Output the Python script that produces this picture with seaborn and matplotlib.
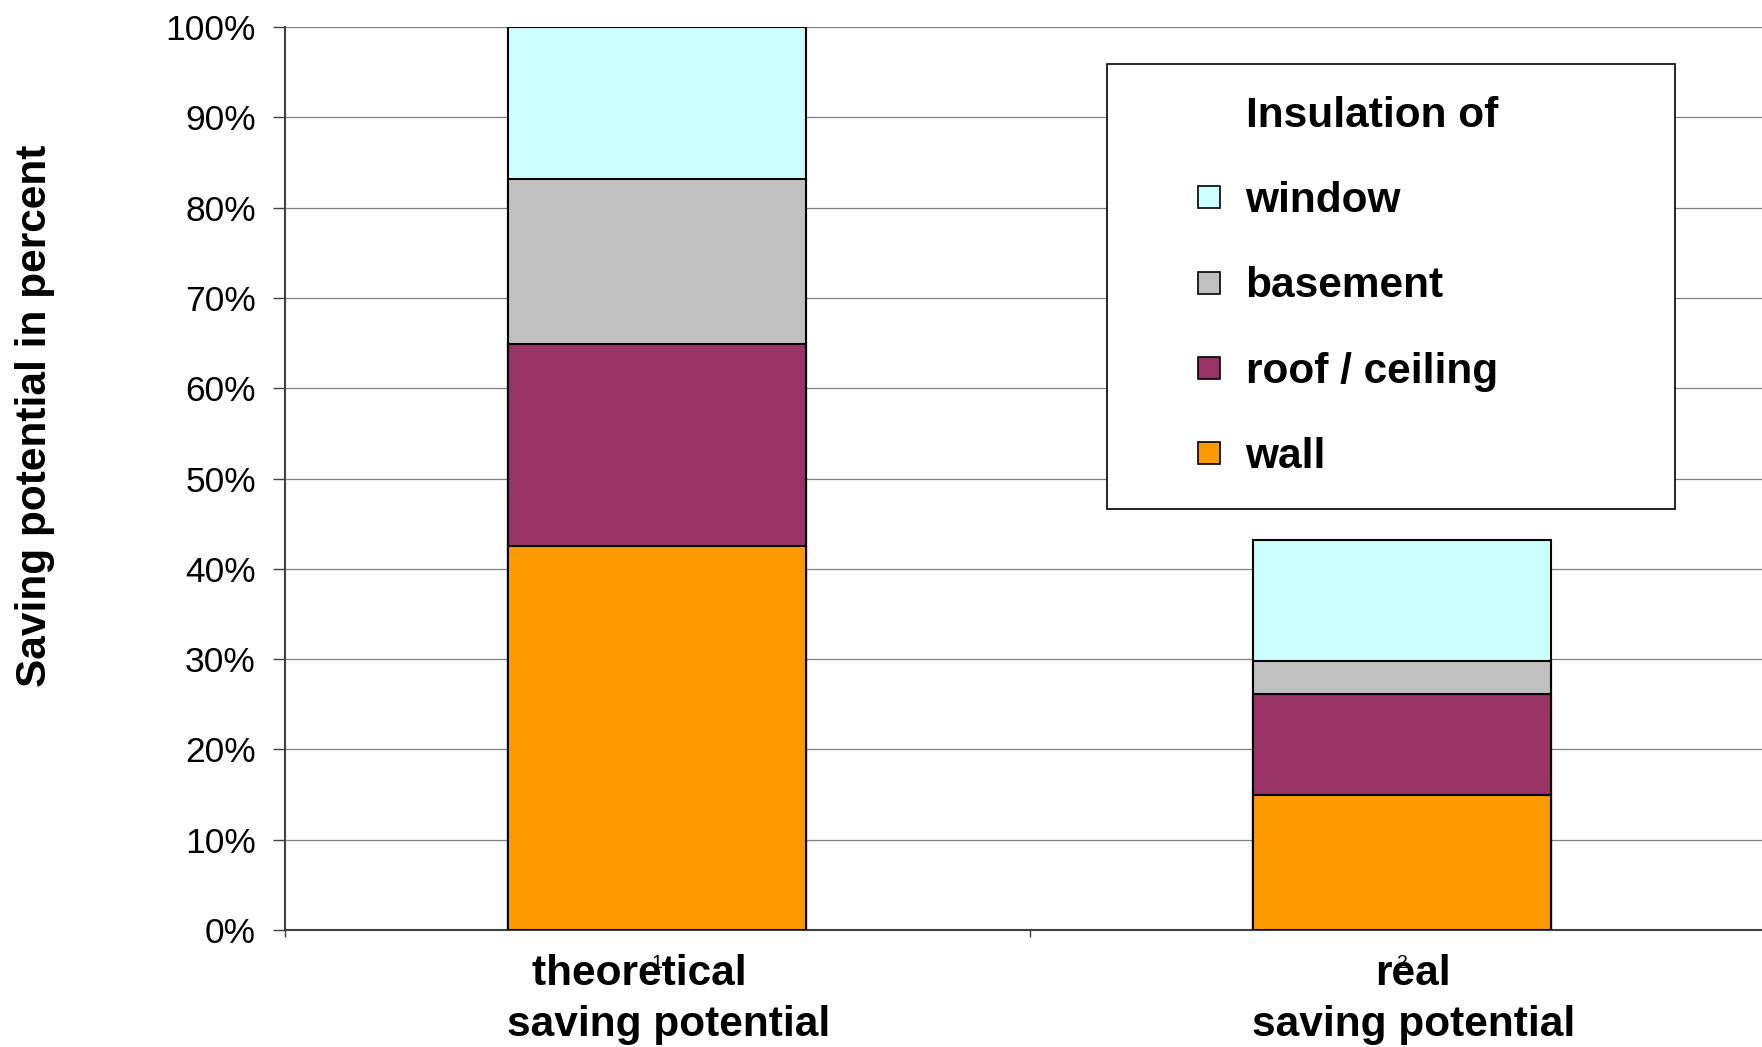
import numpy as np
import pandas as pd
import seaborn as sns
import matplotlib.pyplot as plt
import matplotlib.transforms as mtransforms
from matplotlib.lines import Line2D
from matplotlib.ticker import PercentFormatter, FixedLocator

categories = ["theoretical     \nsaving potential", "real\nsaving potential"]
cat_numbers = ["1", "2"]
layers = ["wall", "roof / ceiling", "basement", "window"]
wall = [42.5, 14.9]
roof = [22.4, 11.2]
basement = [18.3, 3.7]
window = [16.8, 13.4]
colors = {"wall": "#FF9900", "roof / ceiling": "#993366",
          "basement": "#C0C0C0", "window": "#CCFFFF"}

sns.set_theme(style="white")
plt.rcParams['font.family'] = ['Liberation Sans', 'DejaVu Sans']
plt.rcParams['text.color'] = 'black'
plt.rcParams['axes.labelcolor'] = 'black'

fig = plt.figure(figsize=(17.62, 10.47), dpi=100)
ax = fig.add_axes([0.1617, 0.1117, 0.8456, 0.8625])

df = pd.DataFrame({"wall": wall, "roof / ceiling": roof,
                   "basement": basement, "window": window}, index=categories)
cum = df[layers].cumsum(axis=1)

# draw tallest first so lower segments sit on top
for name in layers[::-1]:
    sns.barplot(x=list(categories), y=cum[name].values, color=colors[name],
                width=0.4, edgecolor="black", linewidth=1.5, saturation=1,
                ax=ax, zorder=3)

ax.set_xlim(-0.5, 1.5)
ax.set_ylim(0, 100)
ax.yaxis.set_major_locator(FixedLocator(np.arange(0, 101, 10)))
ax.yaxis.set_major_formatter(PercentFormatter(decimals=0))
ax.grid(axis="y", color="#808080", linewidth=0.9, zorder=0)
ax.set_axisbelow(True)

for s in ["top", "right"]:
    ax.spines[s].set_visible(False)
for s in ["left", "bottom"]:
    ax.spines[s].set_color("#404040")
    ax.spines[s].set_linewidth(1.5)

ax.tick_params(axis="y", which="major", left=True, length=9, width=1,
               color="#404040", pad=12, labelsize=25.5, labelcolor="black")
ax.set_xticks([0, 1])
ax.set_xticklabels(categories, fontsize=30.5, fontweight="bold",
                   color="black", linespacing=1.37)
ax.set_xticks([-0.5, 0.5, 1.5], minor=True)
ax.tick_params(axis="x", which="major", length=0, pad=17)
ax.tick_params(axis="x", which="minor", bottom=True, length=5, width=1,
               color="#404040")
shift = mtransforms.ScaledTranslation(11 / 100, 0, fig.dpi_scale_trans)
for lab in ax.get_xticklabels():
    lab.set_transform(lab.get_transform() + shift)

for i, n in enumerate(cat_numbers):
    ax.annotate(n, xy=(i, 0), xycoords="data", xytext=(0, -24),
                textcoords="offset points", ha="center", va="center",
                fontsize=14, color="black", annotation_clip=False)

ax.set_ylabel("Saving potential in percent", fontsize=30.5,
              fontweight="bold", color="black")
ax.yaxis.set_label_coords(-0.154, 0.569)

handles = [Line2D([], [], linestyle="none", marker="s", markersize=0)]
labels = ["Insulation of"]
for name in layers[::-1]:
    handles.append(Line2D([], [], linestyle="none", marker="s",
                          markersize=15.5, markerfacecolor=colors[name],
                          markeredgecolor="black", markeredgewidth=1.2))
    labels.append(name)

leg = ax.legend(handles, labels, loc="upper left",
                bbox_to_anchor=(1107 / 1762, 1 - 64 / 1047, 568 / 1762, 0.0),
                bbox_transform=fig.transFigure, mode="expand",
                fontsize=30.5, frameon=True, fancybox=False, shadow=False,
                borderpad=0.75, handlelength=3.3, handletextpad=-0.78,
                labelspacing=1.07, borderaxespad=0)
for t in leg.get_texts():
    t.set_fontweight("bold")
    t.set_color("black")
leg.get_frame().set_edgecolor("black")
leg.get_frame().set_linewidth(1.2)
leg.get_frame().set_alpha(1)

fig.savefig("out.png", dpi=100)
